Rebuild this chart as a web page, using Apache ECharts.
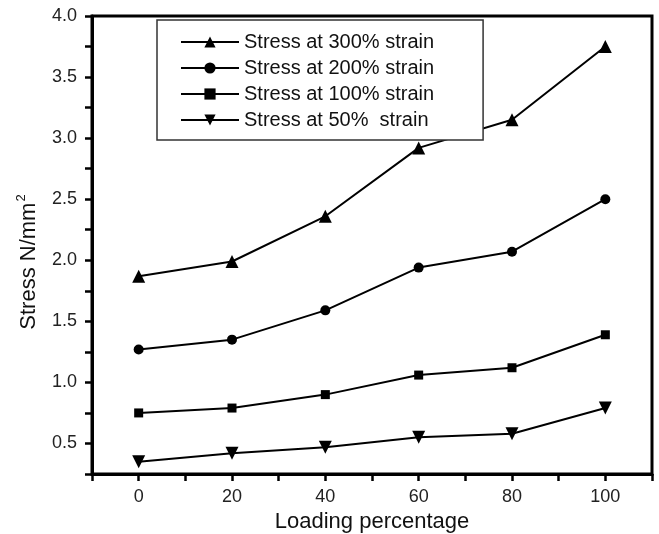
<!DOCTYPE html>
<html>
<head>
<meta charset="utf-8">
<script src="https://cdn.jsdelivr.net/npm/echarts@6/dist/echarts.min.js"></script>
<style>
  html, body { margin: 0; padding: 0; background: #fff; }
  #chart { width: 659px; height: 534px; }
</style>
</head>
<body>
<div id="chart"></div>
<script>
// loading percentage (x)
const loading = [0, 20, 40, 60, 80, 100];
// stress values, N/mm2
const stress300 = [1.87, 1.99, 2.36, 2.92, 3.15, 3.75];
const stress200 = [1.27, 1.35, 1.59, 1.94, 2.07, 2.50];
const stress100 = [0.75, 0.79, 0.90, 1.06, 1.12, 1.39];
const stress50 = [0.35, 0.42, 0.47, 0.55, 0.58, 0.79];
const seriesNames = ['Stress at 300% strain', 'Stress at 200% strain', 'Stress at 100% strain', 'Stress at 50%  strain'];
const xTickLabels = [0, 20, 40, 60, 80, 100];
const yTickLabels = [0.5, 1.0, 1.5, 2.0, 2.5, 3.0, 3.5, 4.0];

const font = 'Arial, "Liberation Sans", sans-serif';

function pairs(vals) {
  return loading.map((x, i) => [x, vals[i]]);
}

function makeSeries(name, vals, symbol, size, rotate) {
  return {
    name,
    type: 'line',
    data: pairs(vals),
    symbol,
    symbolSize: size,
    symbolRotate: rotate || 0,
    showAllSymbol: true,
    lineStyle: { color: '#000', width: 2 },
    itemStyle: { color: '#000' },
    emphasis: { disabled: true },
    animation: false
  };
}

const chart = echarts.init(document.getElementById('chart'), null, { renderer: 'canvas' });

const option = {
  backgroundColor: '#fff',
  animation: false,
  grid: {
    left: 92, right: 7, top: 16, bottom: 60,
    outerBoundsMode: 'none',
    containLabel: false,
    show: true, borderColor: '#000', borderWidth: 3, backgroundColor: 'transparent'
  },
  legend: {
    orient: 'vertical',
    left: 157,
    top: 20,
    data: seriesNames,
    itemWidth: 58,
    itemHeight: 14,
    itemGap: 6,
    padding: [12, 49, 10, 23],
    backgroundColor: '#fff',
    borderColor: '#333',
    borderWidth: 1.5,
    borderRadius: 0,
    textStyle: { color: '#111', fontSize: 20, fontFamily: font, lineHeight: 20 },
    selectedMode: false
  },
  xAxis: {
    type: 'value',
    min: -10,
    max: 110,
    interval: 10,
    name: 'Loading percentage',
    nameLocation: 'middle',
    nameGap: 36,
    nameTextStyle: { color: '#111', fontSize: 22, fontFamily: font },
    splitLine: { show: false },
    axisLine: { onZero: false, lineStyle: { color: '#000', width: 3 } },
    axisTick: { show: true, length: 7, lineStyle: { color: '#000', width: 2.5 } },
    axisLabel: {
      color: '#222', fontSize: 18, fontFamily: font, margin: 14,
      formatter: v => (xTickLabels.indexOf(Math.round(v)) >= 0 ? String(Math.round(v)) : '')
    }
  },
  yAxis: {
    type: 'value',
    min: 0.25,
    max: 4.0,
    interval: 0.25,
    name: 'Stress N/mm{sup|2}',
    nameLocation: 'middle',
    nameGap: 50,
    nameRotate: 90,
    nameTextStyle: {
      color: '#111', fontSize: 22, fontFamily: font,
      padding: [0, 34, 0, 0],
      rich: { sup: { fontSize: 13, fontFamily: font, color: '#111', verticalAlign: 'top', padding: [0, 0, 14, 1] } }
    },
    splitLine: { show: false },
    axisLine: { onZero: false, lineStyle: { color: '#000', width: 3 } },
    axisTick: { show: true, length: 7, lineStyle: { color: '#000', width: 2.5 } },
    axisLabel: {
      color: '#222', fontSize: 18, fontFamily: font, margin: 15,
      formatter: v => {
        const r = Math.round(v * 100) / 100;
        return yTickLabels.some(t => Math.abs(t - r) < 1e-6) ? r.toFixed(1) : '';
      }
    }
  },
  series: [
    makeSeries(seriesNames[0], stress300, 'triangle', 13),
    makeSeries(seriesNames[1], stress200, 'circle', 10),
    makeSeries(seriesNames[2], stress100, 'rect', 9),
    makeSeries(seriesNames[3], stress50, 'triangle', 13, 180)
  ]
};

chart.setOption(option);
</script>
</body>
</html>
